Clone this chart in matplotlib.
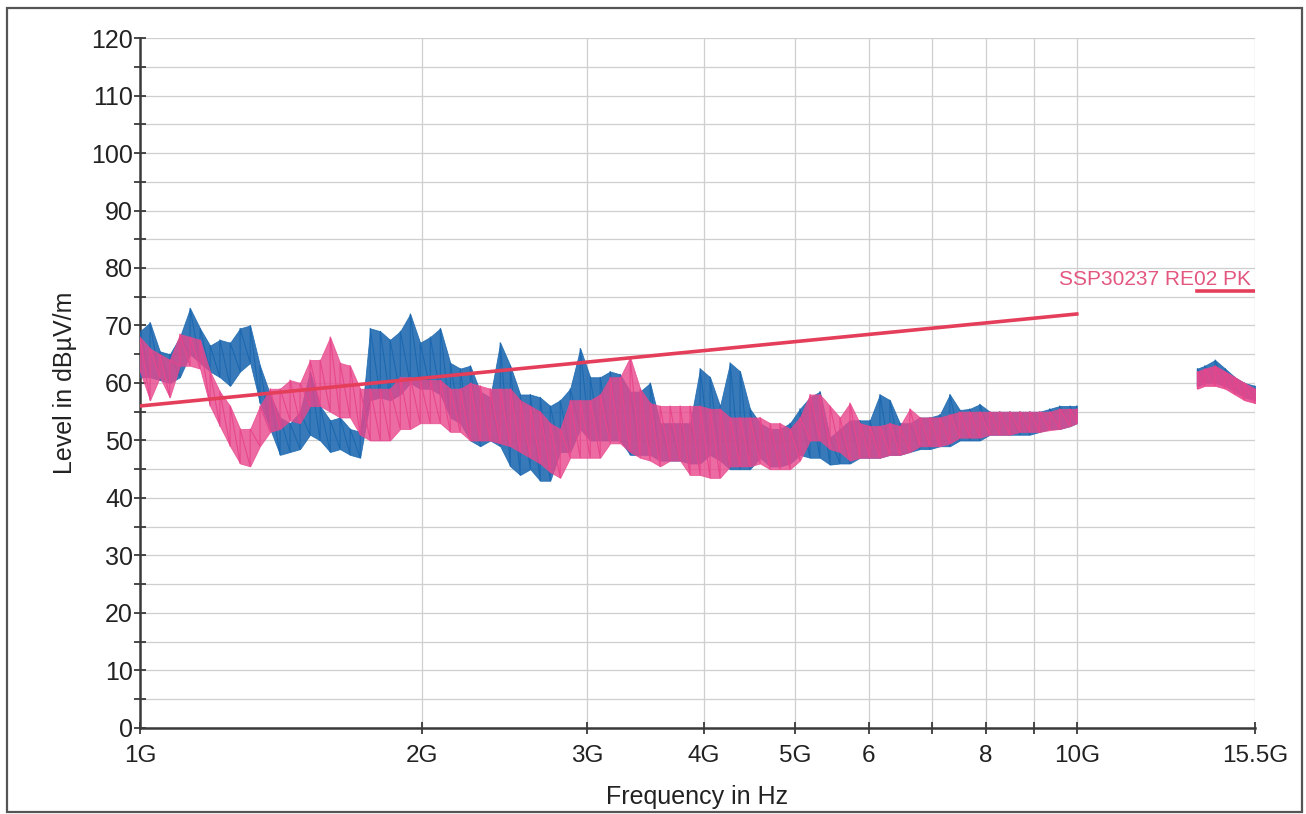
import numpy as np
import matplotlib
matplotlib.use("Agg")
import matplotlib.pyplot as plt
from matplotlib.patches import Rectangle
from matplotlib.ticker import FixedLocator, NullLocator

plt.rcParams['font.family'] = ['Liberation Sans', 'DejaVu Sans']

# sweep frequencies in GHz (1 GHz .. 10 GHz band)
freq_ghz = [
    1.000, 1.025, 1.050, 1.076, 1.103, 1.131, 1.159, 1.188, 1.217, 1.248,
    1.279, 1.311, 1.343, 1.377, 1.411, 1.446, 1.482, 1.519, 1.557, 1.596,
    1.635, 1.676, 1.718, 1.761, 1.805, 1.849, 1.896, 1.943, 1.991, 2.041,
    2.092, 2.144, 2.197, 2.252, 2.308, 2.365, 2.424, 2.485, 2.546, 2.610,
    2.674, 2.741, 2.809, 2.879, 2.951, 3.024, 3.099, 3.176, 3.255, 3.336,
    3.419, 3.504, 3.591, 3.680, 3.772, 3.865, 3.962, 4.060, 4.161, 4.265,
    4.371, 4.479, 4.591, 4.705, 4.822, 4.942, 5.064, 5.190, 5.319, 5.452,
    5.587, 5.726, 5.868, 6.014, 6.164, 6.317, 6.474, 6.635, 6.800, 6.969,
    7.142, 7.320, 7.502, 7.688, 7.880, 8.075, 8.276, 8.482, 8.693, 8.909,
    9.131, 9.358, 9.590, 9.837, 10.00,
]

# blue trace (min / max level per frequency bin, dBuV/m)
blue_lo = [
    61, 61, 60.5, 60, 61, 65, 63.5, 62, 61, 59.5,
    62, 63.5, 56.5, 52, 47.5, 48, 48.5, 51, 50, 48,
    48.5, 47.5, 47, 57, 57.5, 57, 58, 60, 59, 59,
    58, 54, 53, 50, 49, 50, 49, 45.5, 44, 45,
    43, 43, 48, 48, 52, 50, 50, 50, 50, 47.5,
    47.5, 47.5, 46.5, 46.5, 46.5, 46, 46, 47.5, 46.5, 45,
    45, 45, 47, 45.5, 45.5, 46, 47.5, 47, 47, 45.8,
    46, 46, 47, 47, 47, 47.5, 47.5, 48, 48.5, 48.5,
    49, 49, 50, 50, 50, 51, 51, 51, 51, 51,
    51.5, 52, 52, 52.5, 53,
]
blue_hi = [
    69, 70.5, 65.5, 65, 68, 73, 69.5, 66.5, 67.5, 67,
    69.5, 70, 63, 58, 54, 53, 55, 62, 56, 53.5,
    54, 52, 51.5, 69.5, 69, 67.5, 69, 72, 67, 68,
    69.5, 63.5, 62.5, 63, 58.5, 57.5, 67, 63, 58, 58,
    57.5, 56, 57, 59, 66, 61, 61, 62, 61.5, 58.5,
    58.5, 60, 53, 53, 53, 53, 62.5, 61, 56, 63.5,
    62, 55.5, 53, 52, 52, 53, 55.5, 57.5, 58.5, 50.5,
    52, 53.5, 53.5, 53.5, 58, 57, 53, 53, 54, 54,
    54.5, 58, 55.3, 55.5, 56.3, 55, 55, 55, 55, 55,
    55, 55.5, 56, 56, 56,
]

# pink trace (min / max level per frequency bin, dBuV/m)
pink_lo = [
    62, 57, 61, 57.5, 63, 63, 62.5, 56, 52.5, 49,
    46, 45.5, 49, 51.5, 52, 53.5, 53, 56, 56, 55,
    54, 54, 51, 50, 50, 50, 52, 52, 53, 53,
    53, 51.5, 51.5, 50, 50, 50, 49.5, 49, 48, 47,
    46, 44.5, 43.5, 47, 47, 47, 47, 49.5, 49.5, 48,
    47, 46.5, 45.5, 46.5, 46.5, 44, 44, 43.5, 43.5, 45.5,
    45.5, 45.5, 46, 45, 45, 45, 46.5, 50, 50, 48.5,
    48, 46.5, 47, 47, 47, 47.5, 47.5, 48, 49, 49,
    49, 49.5, 50.5, 50.5, 50.5, 51, 51, 51, 51.5, 51.5,
    51.5, 51.8, 52, 52.5, 53,
]
pink_hi = [
    68, 66, 65, 64, 68.5, 68, 67.5, 62, 58.5, 56,
    52, 52, 56, 59, 59, 60.5, 60, 64, 64, 68,
    63.5, 63, 59, 59, 59, 59, 61, 61, 60.5, 60.5,
    60.5, 59, 59, 60, 59.5, 59, 59, 59, 57, 56,
    55, 53, 52, 57, 57, 57, 58, 61, 61, 64.5,
    59, 56.5, 56, 56, 56, 56, 56, 55.5, 55.5, 54,
    54, 54, 54, 53, 53, 52, 54, 58, 58, 56,
    54, 56.5, 53, 52.5, 52.5, 53, 52.5, 55.5, 54, 54,
    54, 54.5, 55, 55, 55, 55, 55, 55, 55, 55,
    55, 55, 55.5, 55.5, 55.5,
]

# upper band sweep (about 13.4 GHz .. 15.5 GHz)
freq_hi_ghz = [13.45, 13.7, 14.05, 14.4, 14.75, 15.1, 15.5]
blue_hi_lo = [59.5, 60, 60, 59.5, 58.5, 57.5, 57]
blue_hi_hi = [62.5, 63, 64, 62.5, 61, 60, 59.5]
pink_hi_lo = [59, 59.5, 59.5, 59, 58, 57, 56.5]
pink_hi_hi = [62, 62.5, 63, 62, 61, 60, 59]

# SSP30237 RE02 peak limit
limit_freq_ghz = [1.0, 10.0]
limit_level = [56, 72]
limit2_freq_ghz = [13.44, 15.5]
limit2_level = [76, 76]

xtick_ghz = [1, 2, 3, 4, 5, 6, 7, 8, 9, 10, 15.5]
xtick_labels = ["1G", "2G", "3G", "4G", "5G", "6", "", "8", "", "10G", "15.5G"]

BLUE = "#1c68b0"
PINK = "#e8468c"
RED = "#e43e5a"


def draw_trace(ax, f_ghz, lo, hi, color, alpha):
    f = np.asarray(f_ghz) * 1e9
    lo = np.asarray(lo)
    hi = np.asarray(hi)
    ax.fill_between(f, lo, hi, color=color, alpha=alpha, lw=0.6, zorder=3)
    # thin zigzag between min and max for a bit of sweep texture
    zx = np.repeat(f, 2)
    zy = np.column_stack([lo, hi]).ravel()
    ax.plot(zx, zy, color=color, lw=0.8, zorder=3)


def main():
    fig = plt.figure(figsize=(13.06, 8.14), dpi=100)
    ax = fig.add_axes([0.1072, 0.1057, 0.8538, 0.8476])

    ax.set_xscale('log')
    ax.set_xlim(1e9, 15.5e9)
    ax.set_ylim(0, 120)

    draw_trace(ax, freq_ghz, blue_lo, blue_hi, BLUE, 0.88)
    draw_trace(ax, freq_ghz, pink_lo, pink_hi, PINK, 0.8)
    draw_trace(ax, freq_hi_ghz, blue_hi_lo, blue_hi_hi, BLUE, 0.88)
    draw_trace(ax, freq_hi_ghz, pink_hi_lo, pink_hi_hi, PINK, 0.9)

    ax.plot(np.array(limit_freq_ghz) * 1e9, limit_level, color=RED, lw=2.6, zorder=4)
    ax.plot(np.array(limit2_freq_ghz) * 1e9, limit2_level, color=RED, lw=2.6, zorder=4)
    ax.text(15.35e9, 77.0, "SSP30237 RE02 PK", color="#e3567f", fontsize=15,
            ha='right', va='baseline', zorder=5)

    ax.xaxis.set_major_locator(FixedLocator(np.array(xtick_ghz) * 1e9))
    ax.xaxis.set_minor_locator(NullLocator())
    ax.set_xticklabels(xtick_labels)
    yt = list(range(0, 121, 5))
    ax.set_yticks(yt)
    ax.set_yticklabels([str(v) if v % 10 == 0 else "" for v in yt])

    ax.grid(True, color="#cfcfcf", lw=0.9, zorder=0)
    ax.set_axisbelow(True)

    for s in ('top', 'right'):
        ax.spines[s].set_visible(False)
    for s in ('left', 'bottom'):
        ax.spines[s].set_color("#3a3a3a")
        ax.spines[s].set_linewidth(1.8)

    ax.tick_params(axis='both', direction='inout', length=9, width=1.3, color="#3a3a3a")
    ax.tick_params(axis='x', labelsize=17.5, pad=8, labelcolor="#222222")
    ax.tick_params(axis='y', labelsize=18, pad=0.5, labelcolor="#222222")

    ax.set_xlabel("Frequency in Hz", fontsize=18, color="#222222", labelpad=13)
    ax.set_ylabel("Level in dBµV/m", fontsize=18, color="#222222", labelpad=10)

    # outer frame
    fig.add_artist(Rectangle((0.0054, 0.0025), 0.9916, 0.9877, transform=fig.transFigure,
                             fill=False, edgecolor="#555555", lw=1.6))

    fig.savefig("out.png", dpi=100, facecolor="white")


if __name__ == '__main__':
    main()
